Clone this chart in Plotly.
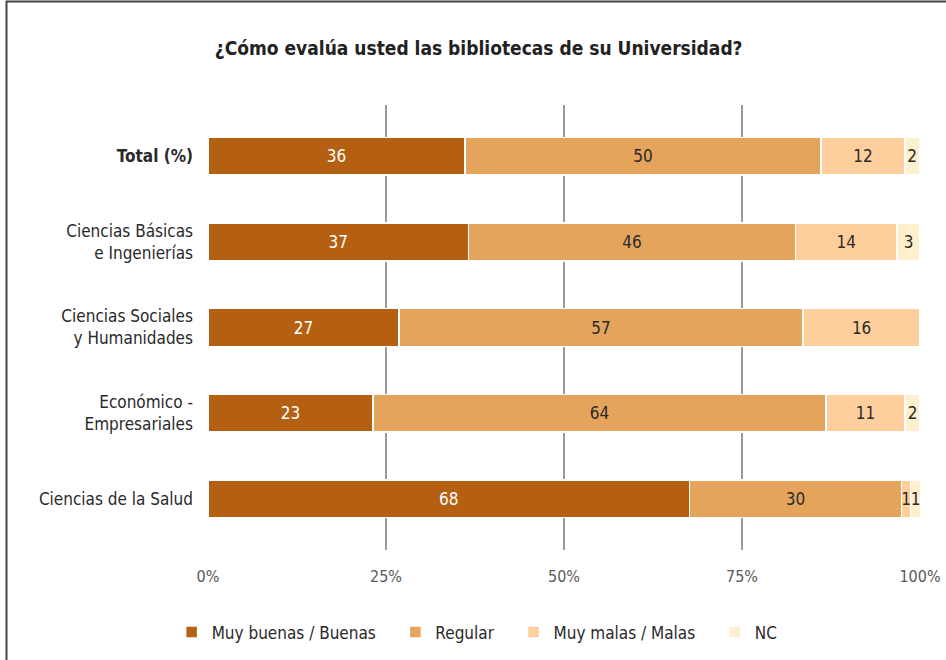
import plotly.graph_objects as go

categories = ["<b>Total (%)</b>", "Ciencias Básicas<br>e Ingenierías", "Ciencias Sociales<br>y Humanidades",
              "Económico -<br>Empresariales", "Ciencias de la Salud"]
muy_buenas = [36.1, 36.6, 26.8, 23.2, 67.6]
regular = [50.0, 45.9, 56.8, 63.6, 29.8]
muy_malas = [11.8, 14.3, 16.4, 11.1, 1.3]
nc = [2.0, 3.2, None, 2.1, 1.4]
series_names = ["Muy buenas / Buenas", "Regular", "Muy malas / Malas", "NC"]
colors = ["#B55F12", "#E4A45C", "#FECF9C", "#FEF0CC"]
text_colors = ["#FFFFFF", "#2A2A2A", "#2A2A2A", "#2A2A2A"]
tick_vals = [0, 25, 50, 75, 100]
tick_text = ["0%", "25%", "50%", "75%", "100%"]

FONT = "Liberation Sans Narrow, Arial Narrow, DejaVu Sans Condensed, sans-serif"
PAD = "\u00a0" * 3

fig = go.Figure()
for i, (name, vals, col, tcol) in enumerate(zip(series_names, [muy_buenas, regular, muy_malas, nc], colors, text_colors)):
    fig.add_trace(go.Bar(
        y=categories, x=vals, name=name + (PAD if i < 3 else ""), orientation="h",
        marker=dict(color=col, line=dict(color="#FFFFFF", width=1.5)),
        texttemplate="%{x:.0f}", textposition="inside", insidetextanchor="middle",
        textfont=dict(color=tcol, size=17, family=FONT),
        width=0.44, hoverinfo="skip",
    ))

fig.update_layout(
    barmode="stack",
    width=946, height=660,
    margin=dict(l=208, r=26, t=105, b=110, autoexpand=False),
    paper_bgcolor="white", plot_bgcolor="white",
    font=dict(family=FONT, color="#2A2A2A", size=16),
    title=dict(text="<b>¿Cómo evalúa usted las bibliotecas de su Universidad?</b>",
               x=0.506, xanchor="center", y=0.927, yanchor="middle",
               font=dict(size=19, color="#222222", family=FONT)),
    uniformtext=dict(minsize=17, mode="show"),
    legend=dict(orientation="h", x=0.378, xanchor="center", y=-0.185, yanchor="middle",
                font=dict(size=17, color="#2A2A2A", family=FONT), traceorder="normal",
                itemwidth=30),
    showlegend=True,
    shapes=[dict(type="rect", xref="paper", yref="paper",
                 x0=(6.5 - 208) / 712, x1=1.2, y0=-0.4, y1=(550 - 1.5) / 445,
                 line=dict(color="#444444", width=2), layer="above")],
)
fig.update_xaxes(range=[0, 100], tickvals=tick_vals, ticktext=tick_text,
                 showgrid=True, gridcolor="#9A9A9A", gridwidth=1.5, zeroline=False,
                 ticks="outside", ticklen=12, tickcolor="rgba(0,0,0,0)",
                 tickfont=dict(size=16, color="#5A5A5A", family=FONT), showline=False,
                 automargin=False, fixedrange=True)
fig.update_yaxes(range=[4.6, -0.6], showgrid=False, zeroline=False, showline=False,
                 ticks="", ticklabelstandoff=14, automargin=False,
                 tickfont=dict(size=17, color="#2A2A2A", family=FONT))

fig.write_html("out.html", config={"displayModeBar": False},
               post_script="document.body.style.margin='0';document.body.style.overflow='hidden';")
